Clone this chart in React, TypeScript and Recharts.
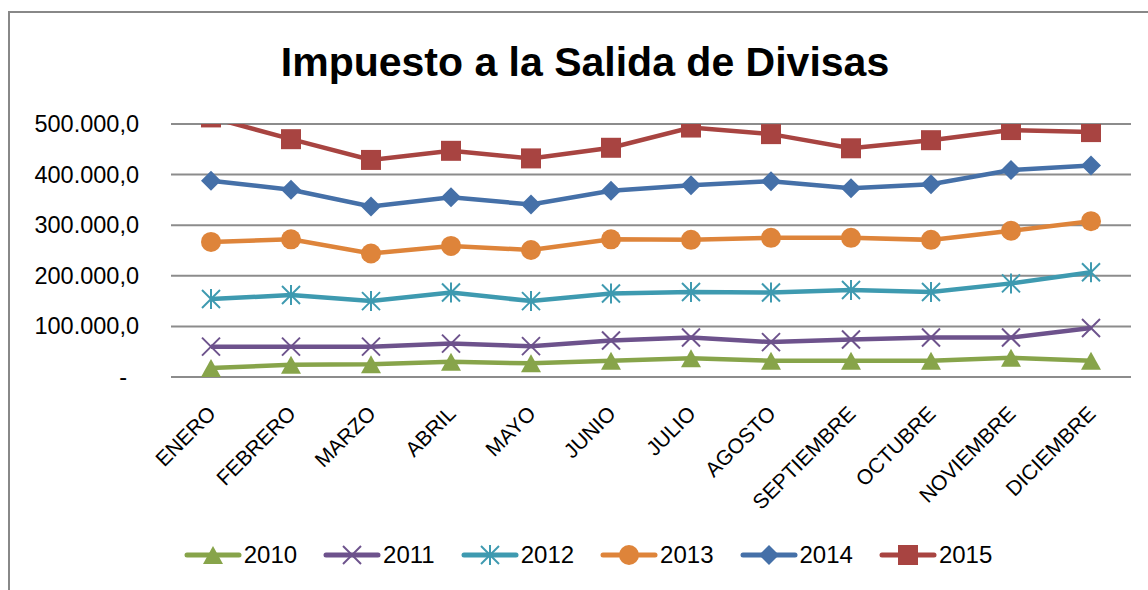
import React from 'react';
import { LineChart, Line, XAxis, YAxis, CartesianGrid, Legend } from 'recharts';

const months = ['ENERO', 'FEBRERO', 'MARZO', 'ABRIL', 'MAYO', 'JUNIO', 'JULIO', 'AGOSTO', 'SEPTIEMBRE', 'OCTUBRE', 'NOVIEMBRE', 'DICIEMBRE'];
const s2010 = [18000, 24000, 25000, 30000, 27000, 32000, 37000, 32000, 32000, 32000, 38000, 32000];
const s2011 = [60000, 60000, 60000, 66000, 61000, 72000, 78000, 69000, 74000, 78000, 78000, 97000];
const s2012 = [154000, 162000, 150000, 167000, 150000, 165000, 168000, 167000, 172000, 168000, 185000, 207000];
const s2013 = [267000, 272000, 244000, 259000, 251000, 272000, 271000, 275000, 275000, 271000, 289000, 308000];
const s2014 = [388000, 370000, 337000, 355000, 341000, 368000, 379000, 387000, 373000, 381000, 409000, 418000];
const s2015 = [513000, 470000, 429000, 447000, 432000, 453000, 493000, 480000, 452000, 468000, 488000, 484000];
const yTicks = [0, 100000, 200000, 300000, 400000, 500000];

const data = months.map((m, i) => ({
  month: m,
  y2010: s2010[i],
  y2011: s2011[i],
  y2012: s2012[i],
  y2013: s2013[i],
  y2014: s2014[i],
  y2015: s2015[i],
}));

const FONT = '"Liberation Sans", Arial, sans-serif';

type Shape = 'triangle' | 'x' | 'star' | 'circle' | 'diamond' | 'square';

const seriesDefs: { key: string; name: string; color: string; shape: Shape }[] = [
  { key: 'y2010', name: '2010', color: '#87A44A', shape: 'triangle' },
  { key: 'y2011', name: '2011', color: '#6D528C', shape: 'x' },
  { key: 'y2012', name: '2012', color: '#3E9AB0', shape: 'star' },
  { key: 'y2013', name: '2013', color: '#DE843A', shape: 'circle' },
  { key: 'y2014', name: '2014', color: '#4570A8', shape: 'diamond' },
  { key: 'y2015', name: '2015', color: '#A84441', shape: 'square' },
];

function marker(shape: Shape, cx: number, cy: number, color: string, key?: any) {
  switch (shape) {
    case 'triangle':
      return <polygon key={key} points={`${cx},${cy - 9} ${cx + 10},${cy + 9} ${cx - 10},${cy + 9}`} fill={color} />;
    case 'x':
      return (
        <g key={key} stroke={color} strokeWidth={2}>
          <line x1={cx - 9} y1={cy - 9} x2={cx + 9} y2={cy + 9} />
          <line x1={cx - 9} y1={cy + 9} x2={cx + 9} y2={cy - 9} />
        </g>
      );
    case 'star':
      return (
        <g key={key} stroke={color} strokeWidth={2}>
          <line x1={cx - 9} y1={cy - 9} x2={cx + 9} y2={cy + 9} />
          <line x1={cx - 9} y1={cy + 9} x2={cx + 9} y2={cy - 9} />
          <line x1={cx} y1={cy - 10} x2={cx} y2={cy + 10} />
        </g>
      );
    case 'circle':
      return <circle key={key} cx={cx} cy={cy} r={10} fill={color} />;
    case 'diamond':
      return <polygon key={key} points={`${cx},${cy - 10} ${cx + 10},${cy} ${cx},${cy + 10} ${cx - 10},${cy}`} fill={color} />;
    case 'square':
    default:
      return <rect key={key} x={cx - 10} y={cy - 10} width={20} height={20} fill={color} />;
  }
}

function fmt(v: number) {
  if (v === 0) return '-';
  const s = Math.round(v).toString().replace(/\B(?=(\d{3})+(?!\d))/g, '.');
  return s + ',0';
}

const YTick = (props: any) => {
  const { x, y, payload } = props;
  const v = payload.value;
  return (
    <text x={v === 0 ? x - 12 : x} y={y} dy={8} textAnchor="end" fill="#000" fontSize={23.5} fontFamily={FONT}>
      {fmt(v)}
    </text>
  );
};

const XTick = (props: any) => {
  const { x, y, payload } = props;
  const px = x + 6;
  const py = y + 30;
  return (
    <text x={px} y={py} textAnchor="end" fill="#000" fontSize={21} fontFamily={FONT} transform={`rotate(-45, ${px}, ${py})`}>
      {payload.value}
    </text>
  );
};

const LegendContent = () => (
  <div style={{ display: 'flex', justifyContent: 'center', alignItems: 'center', height: 28, fontFamily: FONT, fontSize: 24, color: '#000' }}>
    {seriesDefs.map((s, i) => (
      <div key={s.key} style={{ display: 'flex', alignItems: 'center', marginRight: i === seriesDefs.length - 1 ? 0 : 26 }}>
        <svg width={58} height={24} style={{ display: 'block' }}>
          <line x1={3} y1={12} x2={55} y2={12} stroke={s.color} strokeWidth={5} strokeLinecap="round" />
          {marker(s.shape, 29, 12, s.color)}
        </svg>
        <span style={{ marginLeft: 2 }}>{s.name}</span>
      </div>
    ))}
  </div>
);

export default function App() {
  return (
    <div style={{ position: 'absolute', left: 0, top: 0, width: 1148, height: 590, overflow: 'hidden', background: '#fff' }}>
      <div
        style={{
          position: 'absolute',
          left: 8,
          top: 11,
          width: 1160,
          height: 600,
          border: '2px solid #888888',
          boxSizing: 'border-box',
        }}
      />
      <div
        style={{
          position: 'absolute',
          left: 0,
          width: 1170,
          top: 36,
          textAlign: 'center',
          fontFamily: FONT,
          fontWeight: 'bold',
          fontSize: 41,
          lineHeight: '52px',
          color: '#000',
        }}
      >
        Impuesto a la Salida de Divisas
      </div>
      <div style={{ position: 'absolute', left: 0, top: 0 }}>
        <LineChart width={1148} height={590} data={data} margin={{ top: 124, right: 17, bottom: 21, left: 0 }}>
          <CartesianGrid vertical={false} stroke="#8C8C8C" strokeWidth={2} />
          <XAxis
            dataKey="month"
            interval={0}
            padding={{ left: 40, right: 40 }}
            tick={<XTick />}
            tickLine={false}
            axisLine={{ stroke: '#8C8C8C', strokeWidth: 2 }}
            height={164}
          />
          <YAxis
            width={171}
            domain={[0, 500000]}
            ticks={yTicks}
            allowDataOverflow
            tick={<YTick />}
            tickLine={false}
            axisLine={false}
            tickSize={0}
            tickMargin={32}
          />
          <Legend verticalAlign="bottom" content={<LegendContent />} wrapperStyle={{ left: 0, width: 1176 }} />
          {seriesDefs.map((s) => (
            <Line
              key={s.key}
              dataKey={s.key}
              name={s.name}
              stroke={s.color}
              strokeWidth={4.5}
              isAnimationActive={false}
              dot={(p: any) => marker(s.shape, p.cx, p.cy, s.color, `${s.key}-${p.index}`)}
              activeDot={false}
            />
          ))}
        </LineChart>
      </div>
    </div>
  );
}
